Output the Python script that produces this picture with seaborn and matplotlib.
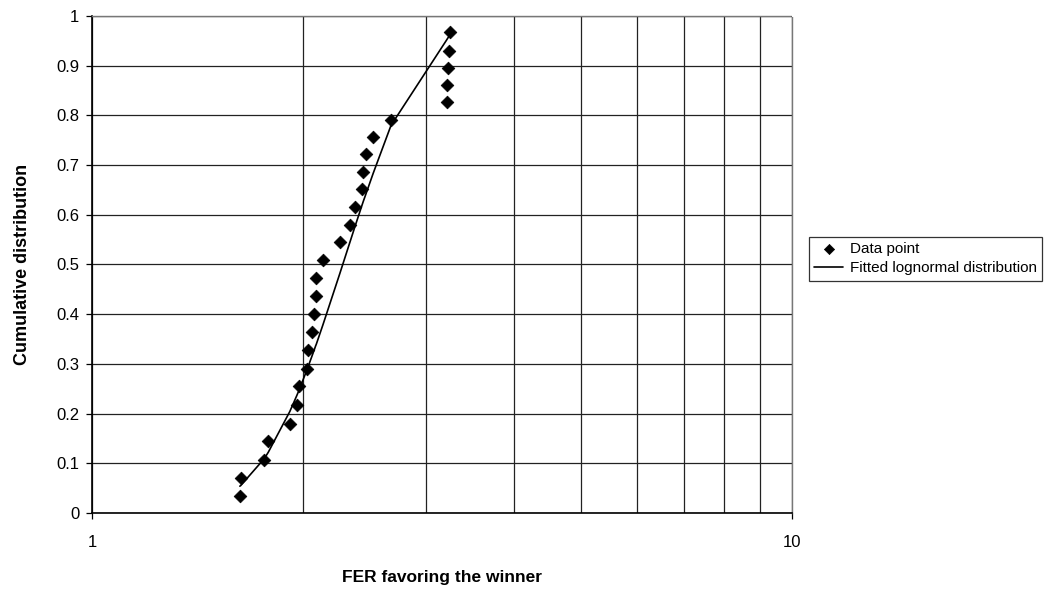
import matplotlib
matplotlib.use("Agg")
import matplotlib.pyplot as plt
import pandas as pd
import seaborn as sns
from matplotlib.ticker import FixedLocator, NullFormatter

# FER values, with their cumulative rank
data_x = [1.626, 1.63, 1.761, 1.785, 1.916, 1.959, 1.974, 2.031, 2.037,
          2.064, 2.075, 2.087, 2.09, 2.136, 2.259, 2.334, 2.375, 2.432,
          2.44, 2.46, 2.52, 2.673, 3.213, 3.21, 3.22, 3.23, 3.24]
data_y = [0.035, 0.070, 0.107, 0.144, 0.180, 0.218, 0.255, 0.290, 0.327,
          0.364, 0.401, 0.436, 0.472, 0.509, 0.546, 0.579, 0.616, 0.651,
          0.686, 0.722, 0.757, 0.791, 0.826, 0.861, 0.896, 0.930, 0.967]

# fitted lognormal curve, read at the same FER values
fit_x = [1.626, 1.63, 1.761, 1.785, 1.916, 1.959, 1.974, 2.031, 2.037,
         2.064, 2.075, 2.087, 2.09, 2.136, 2.259, 2.334, 2.375, 2.432,
         2.44, 2.46, 2.52, 2.673, 3.21, 3.213, 3.22, 3.23, 3.24]
fit_y = [0.054, 0.055, 0.109, 0.122, 0.204, 0.235, 0.246, 0.291, 0.296,
         0.318, 0.327, 0.337, 0.339, 0.378, 0.482, 0.544, 0.577, 0.621,
         0.627, 0.641, 0.683, 0.780, 0.952, 0.953, 0.955, 0.958, 0.962]

y_ticks = [0, 0.1, 0.2, 0.3, 0.4, 0.5, 0.6, 0.7, 0.8, 0.9, 1]
y_tick_labels = ["0", "0.1", "0.2", "0.3", "0.4", "0.5", "0.6", "0.7", "0.8", "0.9", "1"]

sns.set_theme(style="white")
plt.rcParams["font.family"] = ["Liberation Sans", "DejaVu Sans"]

fig = plt.figure(figsize=(10.49, 5.9), dpi=100)
ax = fig.add_axes([0.0877, 0.1305, 0.6676, 0.8424])

pts = pd.DataFrame({"x": data_x, "y": data_y})
fit = pd.DataFrame({"x": fit_x, "y": fit_y})

sns.lineplot(data=fit, x="x", y="y", ax=ax, color="black", linewidth=1.2,
             sort=False, label="Fitted lognormal distribution", zorder=3)
sns.scatterplot(data=pts, x="x", y="y", ax=ax, marker="D", s=42,
                color="black", edgecolor="black", linewidth=0.5,
                label="Data point", zorder=4)

ax.set_xscale("log")
ax.set_xlim(1, 10)
ax.set_ylim(0, 1)
ax.set_xticks([1, 10])
ax.set_xticklabels(["1", "10"])
ax.xaxis.set_minor_locator(FixedLocator([2, 3, 4, 5, 6, 7, 8, 9]))
ax.xaxis.set_minor_formatter(NullFormatter())
ax.set_yticks(y_ticks)
ax.set_yticklabels(y_tick_labels)

ax.grid(True, which="both", axis="both", color="#222222", linewidth=0.9)
ax.set_axisbelow(True)

for side in ("left", "bottom"):
    ax.spines[side].set_color("black")
    ax.spines[side].set_linewidth(1.2)
for side in ("top", "right"):
    ax.spines[side].set_color("#777777")
    ax.spines[side].set_linestyle((0, (1, 1)))
    ax.spines[side].set_linewidth(1.0)

ax.tick_params(axis="y", which="major", left=True, length=4, width=0.9,
               direction="out", labelsize=12, pad=5, color="black",
               labelcolor="black")
ax.tick_params(axis="x", which="major", bottom=True, length=4, width=0.9,
               direction="out", labelsize=12, pad=12, color="black",
               labelcolor="black")
ax.tick_params(axis="x", which="minor", bottom=False)

ax.set_xlabel("FER favoring the winner", fontsize=12.5, fontweight="bold",
              labelpad=14, color="black")
ax.set_ylabel("Cumulative distribution", fontsize=13, fontweight="bold",
              labelpad=18, color="black")

handles, labels = ax.get_legend_handles_labels()
order = [labels.index("Data point"), labels.index("Fitted lognormal distribution")]
leg = ax.legend([handles[i] for i in order], [labels[i] for i in order],
                loc="center left", bbox_to_anchor=(1.024, 0.512), fontsize=11,
                frameon=True, fancybox=False, edgecolor="black",
                borderpad=0.35, borderaxespad=0, handlelength=1.9, handletextpad=0.4,
                labelspacing=0.35, markerscale=0.8, labelcolor="black")
leg.get_frame().set_linewidth(0.9)

fig.savefig("out.png", dpi=100, facecolor="white")
